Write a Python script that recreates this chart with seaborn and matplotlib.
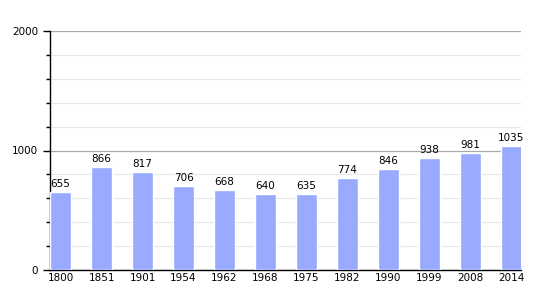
import matplotlib
matplotlib.use("Agg")
import matplotlib.pyplot as plt
import seaborn as sns
import pandas as pd
from matplotlib.ticker import MultipleLocator

years = ["1800", "1851", "1901", "1954", "1962", "1968", "1975", "1982", "1990", "1999", "2008", "2014"]
population = [655, 866, 817, 706, 668, 640, 635, 774, 846, 938, 981, 1035]

sns.set_style("white")
plt.rcParams['font.family'] = ['DejaVu Sans']
plt.rcParams['text.color'] = 'black'
plt.rcParams['xtick.color'] = 'black'
plt.rcParams['ytick.color'] = 'black'

df = pd.DataFrame({"year": years, "pop": population})

fig = plt.figure(figsize=(5.5, 3), dpi=100)
ax = fig.add_axes([50/550, 30/300, 471/550, 239/300])

sns.barplot(data=df, x="year", y="pop", color="#99AAFF", saturation=1, width=0.52, ax=ax, zorder=3)

ax.set_ylim(0, 2000)
ax.set_xlim(-0.26, 11.24)
ax.yaxis.set_major_locator(MultipleLocator(1000))
ax.yaxis.set_minor_locator(MultipleLocator(200))
ax.grid(which="major", axis="y", color="#aaaaaa", linewidth=0.9, zorder=0)
ax.grid(which="minor", axis="y", color="#e8e8e8", linewidth=0.9, zorder=0)
ax.set_axisbelow(True)

for s in ["top", "right"]:
    ax.spines[s].set_visible(False)
for s in ["left", "bottom"]:
    ax.spines[s].set_color("black")
    ax.spines[s].set_linewidth(1.0)

ax.tick_params(axis="y", which="major", length=5, width=1, direction="out", colors="black", labelsize=7.5, left=True)
ax.tick_params(axis="y", which="minor", length=3, width=1, direction="out", colors="black", left=True)
ax.tick_params(axis="x", length=0, labelsize=7.5, pad=2, colors="black")
ax.set_xlabel("")
ax.set_ylabel("")

for i, v in enumerate(population):
    ax.text(i, v + 25, str(v), ha="center", va="bottom", fontsize=7.5, color="black")

fig.savefig("out.png", dpi=100)
